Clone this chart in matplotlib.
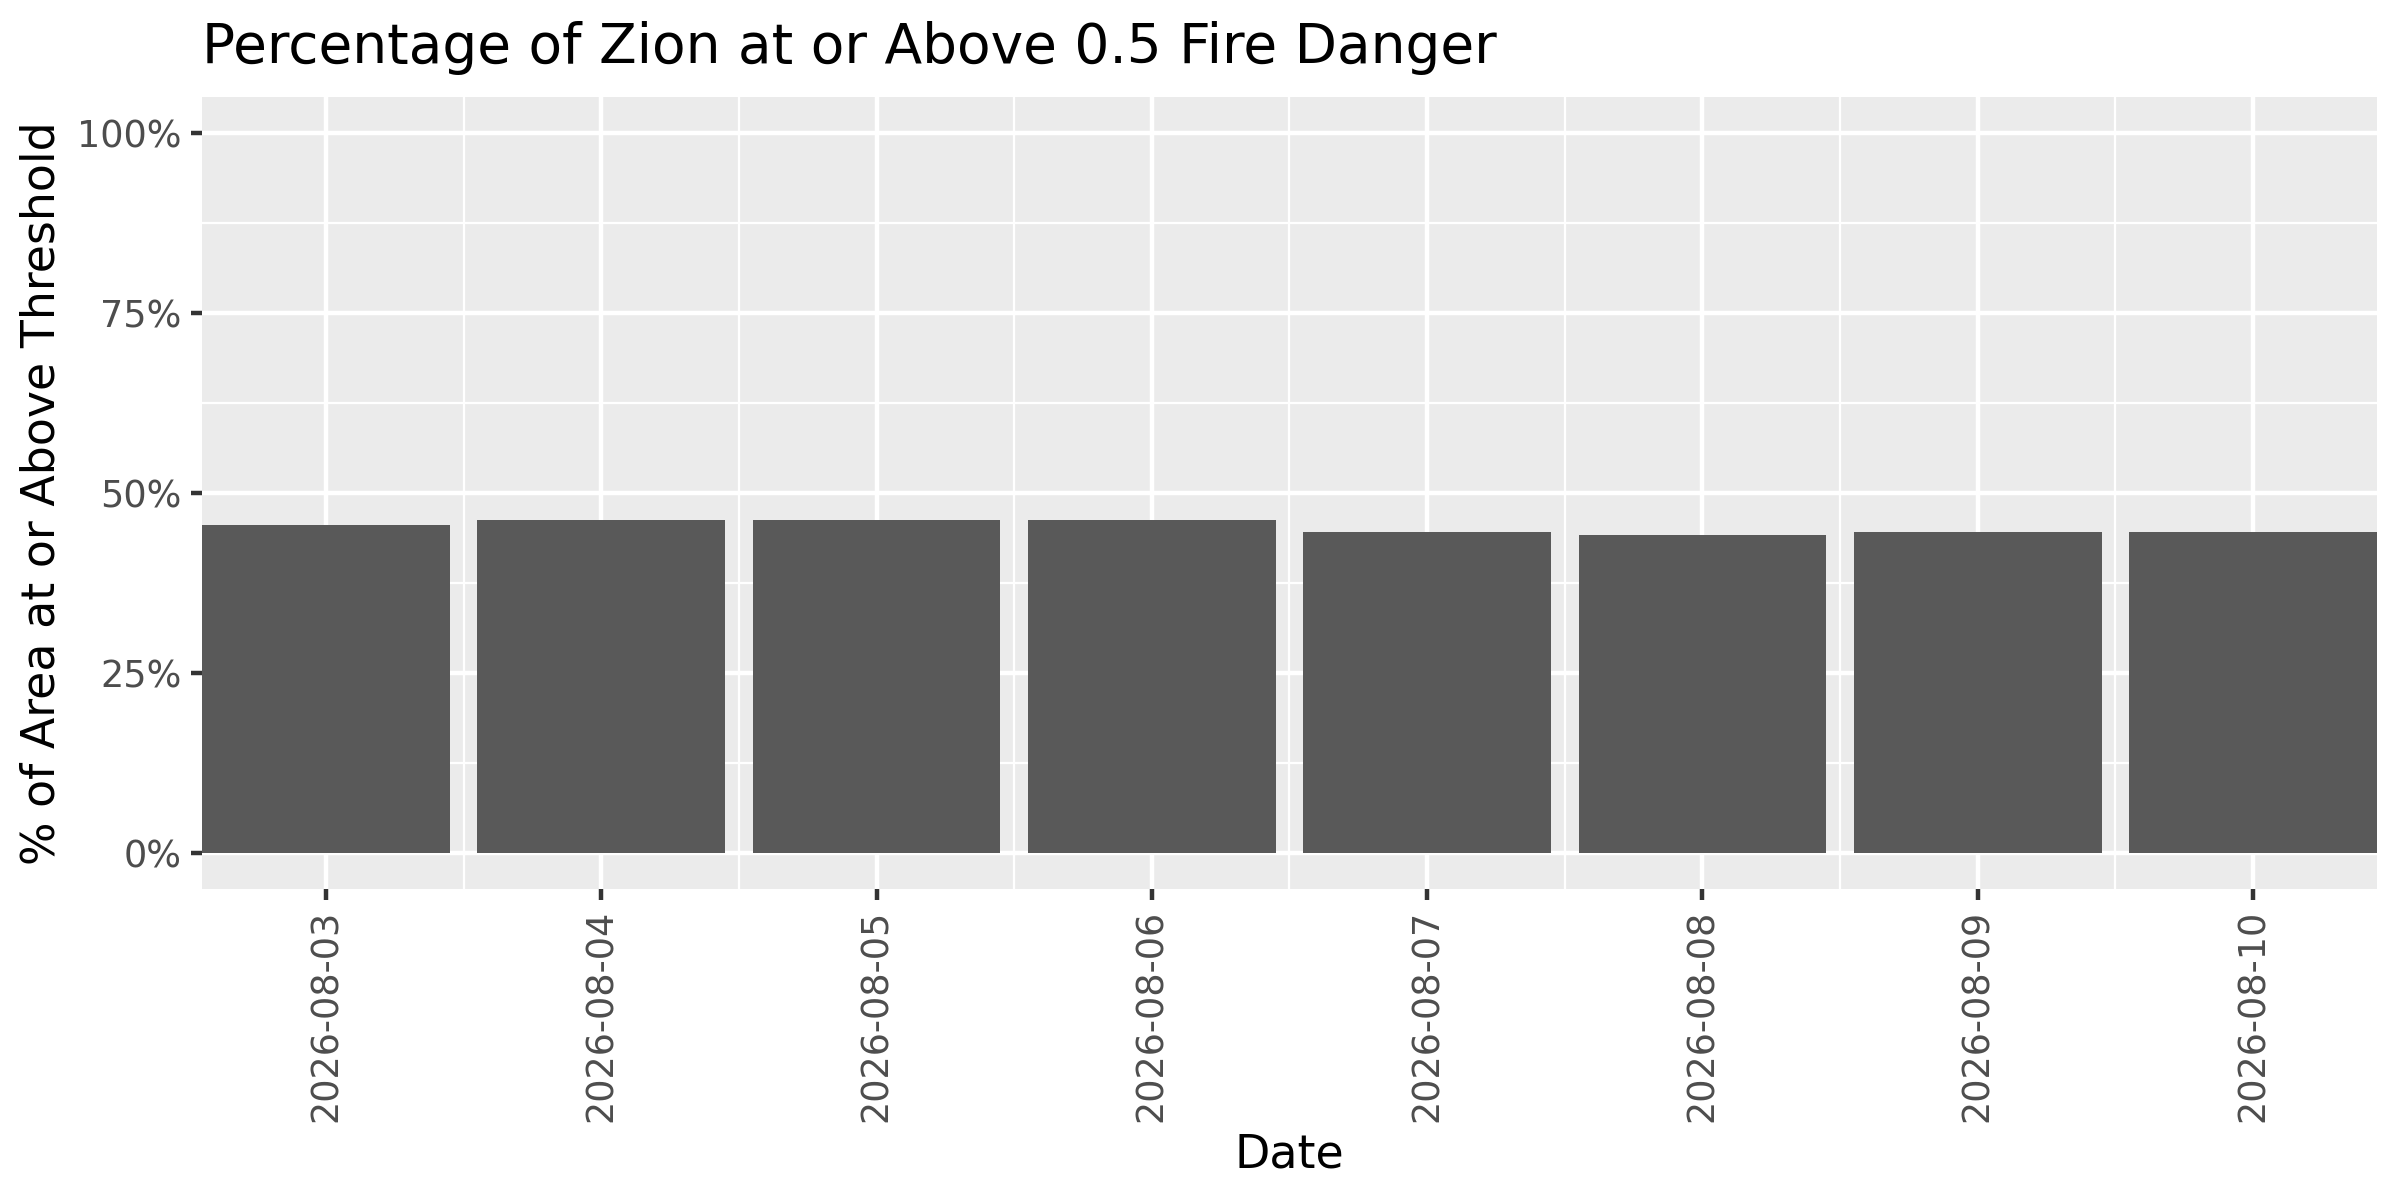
import matplotlib
matplotlib.use("Agg")
import matplotlib.pyplot as plt
import numpy as np
from matplotlib.ticker import FixedLocator, FuncFormatter

# data
dates = ["2026-08-03", "2026-08-04", "2026-08-05", "2026-08-06",
         "2026-08-07", "2026-08-08", "2026-08-09", "2026-08-10"]
pct_above = [45.6, 46.3, 46.3, 46.3, 44.6, 44.2, 44.6, 44.6]

title = "Percentage of Zion at or Above 0.5 Fire Danger"
x_label = "Date"
y_label = "% of Area at or Above Threshold"

PANEL = "#EBEBEB"
BAR = "#595959"
TICK_TXT = "#4D4D4D"
TICK_LINE = "#333333"

plt.rcParams["font.family"] = ["DejaVu Sans"]

fig = plt.figure(figsize=(8, 4), dpi=300)
ax = fig.add_axes([202 / 2400, 1 - 889 / 1200, (2377 - 202) / 2400, (889 - 97) / 1200])
ax.set_facecolor(PANEL)

x = np.arange(len(dates))
ax.bar(x, pct_above, width=0.9, color=BAR, zorder=3, linewidth=0)

ax.set_xlim(-0.45, len(dates) - 0.55)
ax.set_ylim(-5, 105)

ax.xaxis.set_major_locator(FixedLocator(x))
ax.xaxis.set_minor_locator(FixedLocator(x[:-1] + 0.5))
ax.set_xticks(x)
ax.set_xticklabels(dates, rotation=90, fontsize=8.8, color=TICK_TXT)

yticks = [0, 25, 50, 75, 100]
ax.yaxis.set_major_locator(FixedLocator(yticks))
ax.yaxis.set_minor_locator(FixedLocator([12.5, 37.5, 62.5, 87.5]))
ax.yaxis.set_major_formatter(FuncFormatter(lambda v, p: f"{v:.0f}%"))
ax.tick_params(axis="y", labelsize=8.8, labelcolor=TICK_TXT)

ax.grid(which="major", color="white", linewidth=1.07, zorder=1)
ax.grid(which="minor", color="white", linewidth=0.53, zorder=1)
ax.set_axisbelow(True)

ax.tick_params(which="major", length=2.75, width=1.07, color=TICK_LINE, pad=2.2)
ax.tick_params(which="minor", length=0)
for s in ax.spines.values():
    s.set_visible(False)

ax.set_xlabel(x_label, fontsize=11, labelpad=2.5)
ax.set_ylabel(y_label, fontsize=11, labelpad=3)

fig.text(202 / 2400, 1 - 63 / 1200, title, fontsize=13.2, ha="left", va="baseline")

fig.savefig("out.png", dpi=300, facecolor="white")
